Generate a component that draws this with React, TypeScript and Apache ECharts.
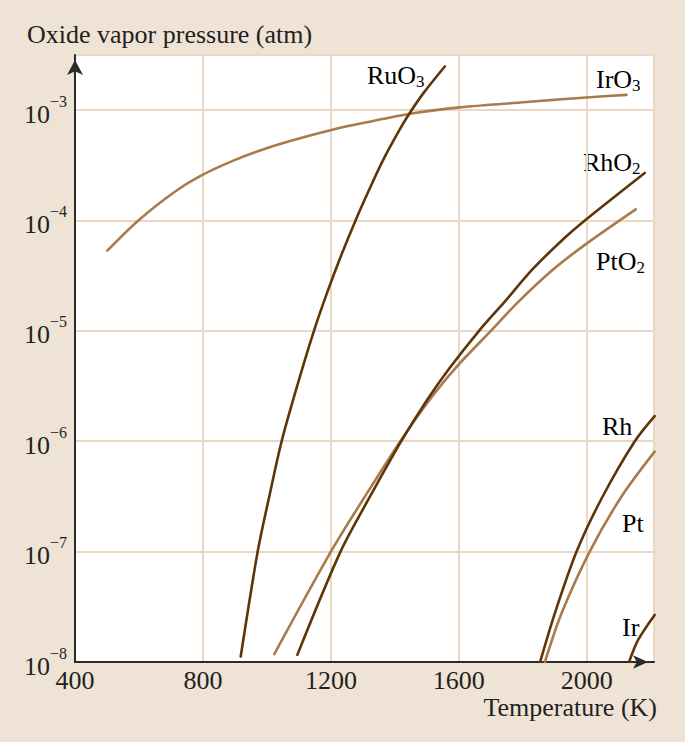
import React, { useEffect, useRef } from "react";
import * as echarts from "echarts";

// Temperature (K) and oxide vapor pressure (atm)
const T_IrO3 = [501, 598, 712, 791, 895, 999, 1103, 1205, 1312, 1457, 1603, 1822, 1999, 2124];
const P_IrO3 = [5.32e-5, 1.0e-4, 1.82e-4, 2.52e-4, 3.48e-4, 4.51e-4, 5.55e-4, 6.64e-4, 7.74e-4, 9.33e-4, 1.057e-3, 1.19e-3, 1.3e-3, 1.37e-3];

const T_RuO3 = [918, 971, 1005, 1046, 1097, 1147, 1189, 1228, 1277, 1316, 1365, 1422, 1450, 1491, 1556];
const P_RuO3 = [1.12e-8, 1e-7, 2.94e-7, 1e-6, 3.35e-6, 1e-5, 2.25e-5, 4.5e-5, 1e-4, 1.8e-4, 3.61e-4, 7.21e-4, 9.75e-4, 1.445e-3, 2.48e-3];

const T_RhO2 = [1095, 1230, 1322, 1420, 1497, 1570, 1663, 1742, 1832, 1931, 1994, 2181];
const P_RhO2 = [1.16e-8, 1e-7, 3.14e-7, 1e-6, 2.28e-6, 4.55e-6, 1e-5, 1.82e-5, 3.65e-5, 6.97e-5, 1e-4, 2.69e-4];

const T_PtO2 = [1023, 1200, 1306, 1417, 1504, 1588, 1700, 1785, 1890, 1999, 2153];
const P_PtO2 = [1.18e-8, 1e-7, 3.14e-7, 1e-6, 2.28e-6, 4.55e-6, 1e-5, 1.82e-5, 3.5e-5, 6.16e-5, 1.26e-4];

const T_Rh = [1854, 1900, 1968, 2049, 2150, 2212];
const P_Rh = [1e-8, 2.76e-8, 1e-7, 3.14e-7, 1e-6, 1.69e-6];

const T_Pt = [1869, 1921, 2009, 2108, 2212];
const P_Pt = [1e-8, 2.76e-8, 1e-7, 3.14e-7, 8.04e-7];

const T_Ir = [2132, 2160, 2212];
const P_Ir = [1e-8, 1.58e-8, 2.67e-8];

const X_TICKS = [400, 800, 1200, 1600, 2000];

const DARK = "#5e3508";
const LIGHT = "#a87a4c";
const TEXT = "#231f20";
const FONT = "Liberation Serif";
const FS = 26;

const zip = (t: number[], p: number[]) => t.map((v, i) => [v, p[i]]);

const seriesDefs = [
  { name: "IrO3", t: T_IrO3, p: P_IrO3, color: LIGHT },
  { name: "RuO3", t: T_RuO3, p: P_RuO3, color: DARK },
  { name: "PtO2", t: T_PtO2, p: P_PtO2, color: LIGHT },
  { name: "RhO2", t: T_RhO2, p: P_RhO2, color: DARK },
  { name: "Pt", t: T_Pt, p: P_Pt, color: LIGHT },
  { name: "Rh", t: T_Rh, p: P_Rh, color: DARK },
  { name: "Ir", t: T_Ir, p: P_Ir, color: DARK },
];

const labelRich = {
  b: { fontSize: FS, fontFamily: FONT, color: TEXT, lineHeight: 28, verticalAlign: "top" },
  s: { fontSize: 17, fontFamily: FONT, color: TEXT, lineHeight: 17, verticalAlign: "bottom" },
};

const curveLabels = [
  { text: "{b|RuO}{s|3}", x: 367, y: 76 },
  { text: "{b|IrO}{s|3}", x: 596, y: 80 },
  { text: "{b|RhO}{s|2}", x: 583, y: 163 },
  { text: "{b|PtO}{s|2}", x: 596, y: 262 },
  { text: "{b|Rh}", x: 602, y: 427 },
  { text: "{b|Pt}", x: 622, y: 524 },
  { text: "{b|Ir}", x: 622, y: 628 },
];

export default function App() {
  const ref = useRef<HTMLDivElement>(null);
  useEffect(() => {
    if (!ref.current) return;
    const chart = echarts.init(ref.current, null, { renderer: "svg" });
    chart.setOption({
      animation: false,
      backgroundColor: "#efe3d6",
      grid: {
        left: 75,
        top: 55,
        right: 31,
        bottom: 80,
        show: true,
        backgroundColor: "#ffffff",
        borderWidth: 0,
      },
      xAxis: {
        type: "value",
        min: X_TICKS[0],
        max: 2210,
        interval: 400,
        name: "Temperature (K)",
        nameLocation: "end",
        nameGap: 3,
        nameTextStyle: {
          fontFamily: FONT,
          fontSize: FS,
          color: TEXT,
          align: "right",
          verticalAlign: "top",
          padding: [32, 0, 0, 0],
        },
        axisLine: {
          show: true,
          lineStyle: { color: "#2b2b2b", width: 2 },
          symbol: ["none", "arrow"],
          symbolSize: [10, 15],
          symbolOffset: [0, -6],
        },
        axisTick: { show: false },
        axisLabel: {
          fontFamily: FONT,
          fontSize: FS,
          color: TEXT,
          margin: 5,
          showMaxLabel: false,
          formatter: (v: number) => (X_TICKS.includes(v) ? String(v) : ""),
        },
        splitLine: { show: true, lineStyle: { color: "#ead8c4", width: 2 } },
      },
      yAxis: {
        type: "log",
        logBase: 10,
        min: 1e-8,
        max: 3.15e-3,
        name: "Oxide vapor pressure (atm)",
        nameLocation: "end",
        nameGap: 8,
        nameTextStyle: {
          fontFamily: FONT,
          fontSize: FS,
          color: TEXT,
          align: "left",
          verticalAlign: "bottom",
          padding: [0, 0, 0, -48],
        },
        axisLine: {
          show: true,
          lineStyle: { color: "#2b2b2b", width: 2 },
          symbol: ["none", "arrow"],
          symbolSize: [12, 15],
          symbolOffset: [0, -5],
        },
        axisTick: { show: false },
        axisLabel: {
          margin: 8,
          showMaxLabel: false,
          formatter: (v: number) => {
            const e = Math.log10(v);
            const r = Math.round(e);
            if (Math.abs(e - r) > 1e-6) return "";
            return `{b|10}{s|−${-r}}`;
          },
          rich: {
            b: { fontSize: FS, fontFamily: FONT, color: TEXT, lineHeight: 34, verticalAlign: "bottom" },
            s: { fontSize: 16, fontFamily: FONT, color: TEXT, lineHeight: 16, verticalAlign: "top" },
          },
        },
        splitLine: { show: true, lineStyle: { color: "#ead8c4", width: 2 } },
      },
      series: seriesDefs.map((s) => ({
        name: s.name,
        type: "line",
        data: zip(s.t, s.p),
        showSymbol: false,
        smooth: 0.3,
        clip: true,
        lineStyle: { color: s.color, width: 2.6, cap: "round" },
        silent: true,
      })),
      graphic: curveLabels.map((l) => ({
        type: "text",
        x: l.x,
        y: l.y,
        silent: true,
        style: {
          text: l.text,
          rich: labelRich,
          align: "left",
          verticalAlign: "middle",
          textAlign: "left",
          textVerticalAlign: "middle",
        },
      })),
    });
    return () => chart.dispose();
  }, []);
  return (
    <div
      ref={ref}
      style={{ position: "fixed", left: 0, top: 0, width: 685, height: 742 }}
    />
  );
}
